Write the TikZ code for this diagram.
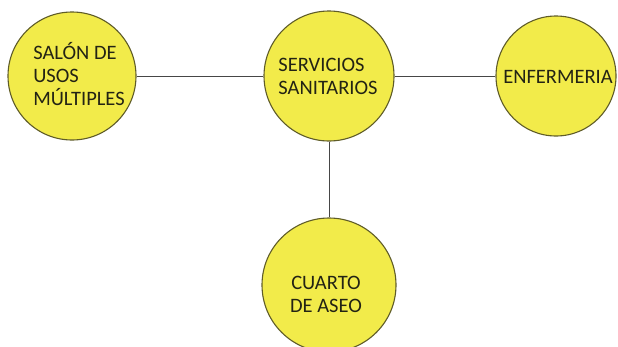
\documentclass[tikz,border=0pt]{standalone}
\usepackage{fontspec}
\setmainfont{Carlito}
\definecolor{circfill}{RGB}{242,235,74}
\definecolor{circline}{RGB}{95,92,40}
\definecolor{txtcol}{RGB}{35,35,20}
\definecolor{linkcol}{RGB}{70,70,70}
\begin{document}
\begin{tikzpicture}[x=1pt,y=-1pt,
  room/.style={circle,draw=circline,line width=1.1pt,fill=circfill,inner sep=0pt},
  lbl/.style={text=txtcol,font=\fontsize{20.5}{23}\selectfont,inner sep=0pt},
  link/.style={draw=linkcol,line width=0.9pt}]
\useasboundingbox (0,0) rectangle (618,346);
\clip (0,0) rectangle (618,346);
\fill[white] (0,0) rectangle (618,346);
\node[room,minimum size=128pt] (salon) at (72,76) {};
\node[room,minimum size=130pt] (serv) at (329,76) {};
\node[room,minimum size=120pt] (enf) at (556,76) {};
\node[room,minimum size=134pt] (cuarto) at (329,285) {};
\node[lbl,align=left] (tsalon) at (79,74) {SALÓN DE\\USOS\\MÚLTIPLES};
\node[lbl,align=left] (tserv) at (328,76) {SERVICIOS\\SANITARIOS};
\node[lbl,align=center] (tenf) at (558,77) {ENFERMERIA};
\node[lbl,align=center] (tcuarto) at (326,294) {CUARTO\\DE ASEO};
\draw[link] (salon.east) -- (serv.west);
\draw[link] (serv.east) -- (enf.west);
\draw[link] (serv.south) -- (cuarto.north);
\end{tikzpicture}
\end{document}
